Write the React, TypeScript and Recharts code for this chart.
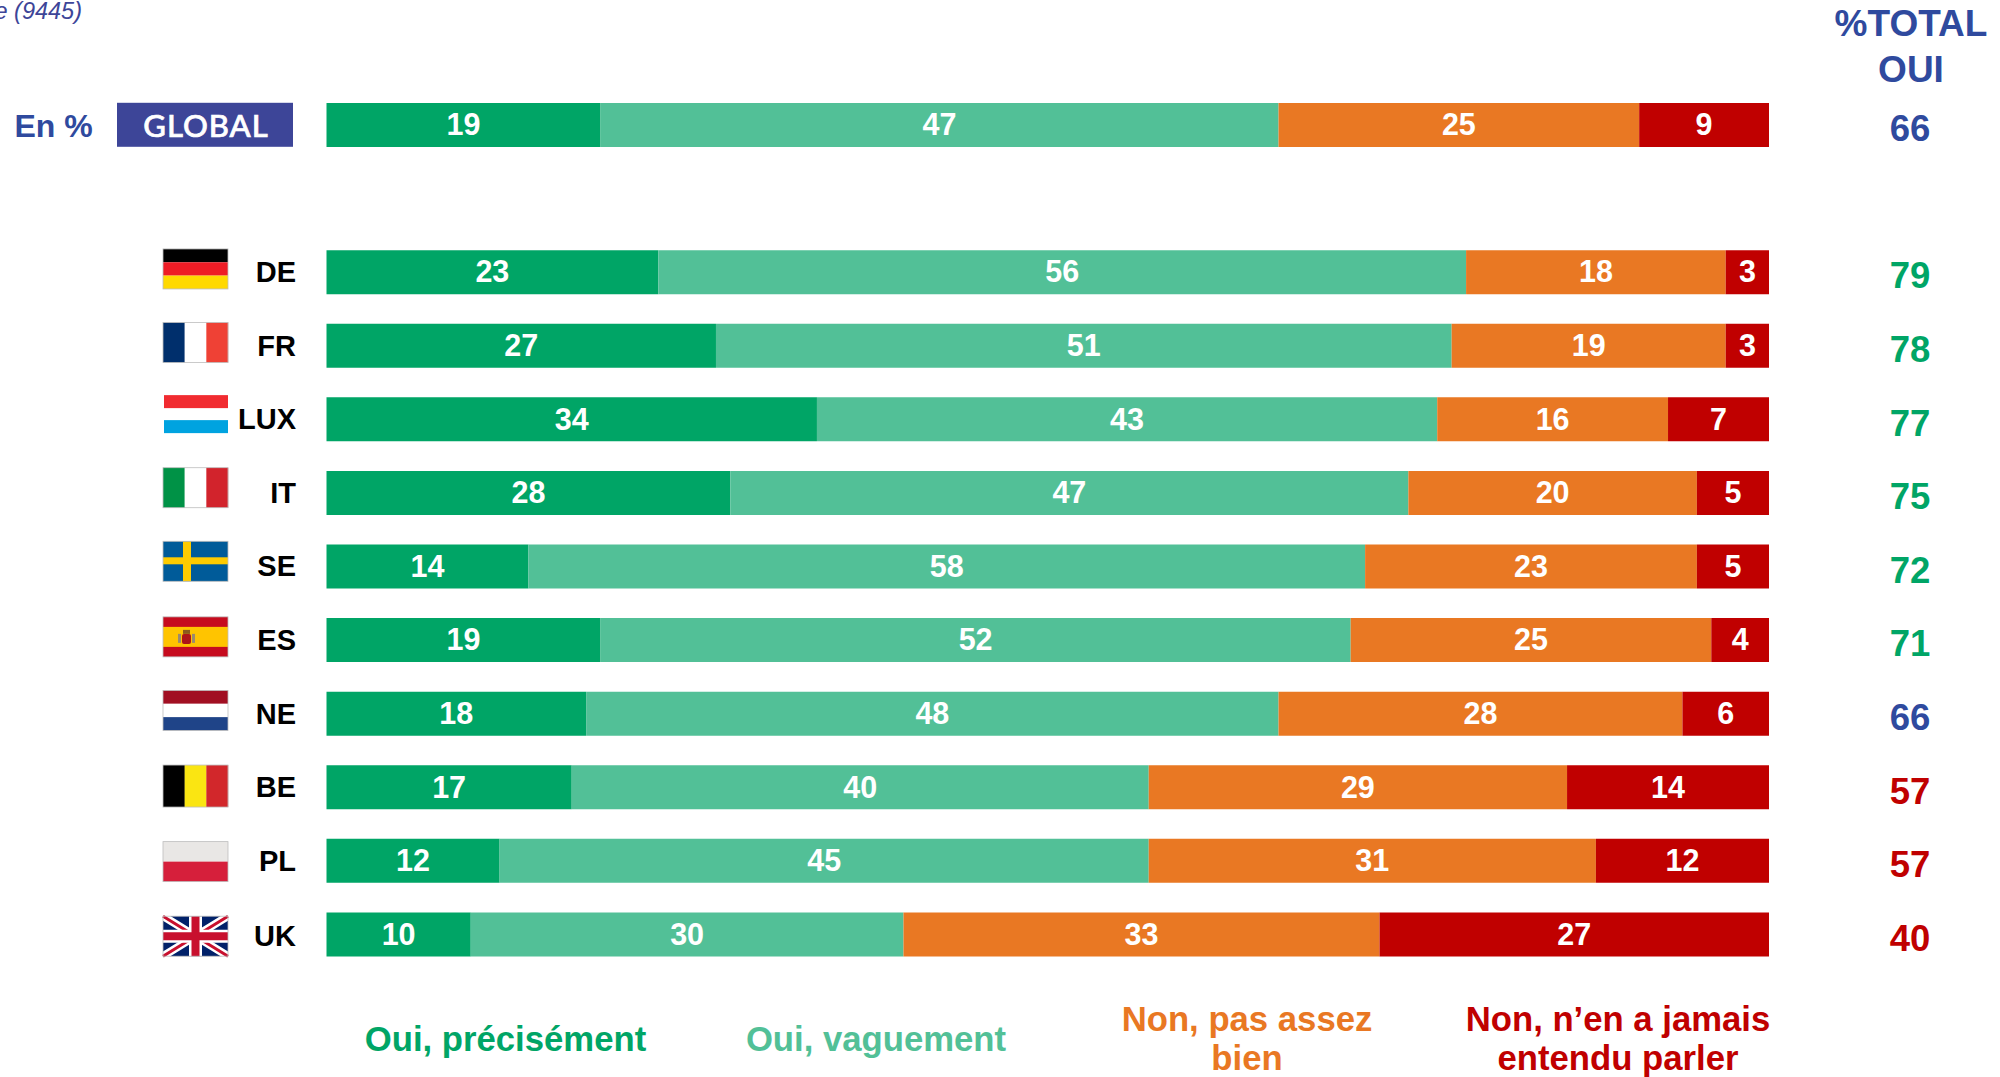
import { BarChart, Bar, XAxis, YAxis, LabelList } from "recharts";

const categories = ["GLOBAL", "", "DE", "FR", "LUX", "IT", "SE", "ES", "NE", "BE", "PL", "UK"];
const ouiPrecisement = [19, null, 23, 27, 34, 28, 14, 19, 18, 17, 12, 10];
const ouiVaguement = [47, null, 56, 51, 43, 47, 58, 52, 48, 40, 45, 30];
const nonPasAssez = [25, null, 18, 19, 16, 20, 23, 25, 28, 29, 31, 33];
const nonJamais = [9, null, 3, 3, 7, 5, 5, 4, 6, 14, 12, 27];
const totalOui = [66, null, 79, 78, 77, 75, 72, 71, 66, 57, 57, 40];

const GREEN = "#00A566";
const LIGHT_GREEN = "#52C097";
const ORANGE = "#E97823";
const RED = "#C00000";
const BLUE = "#2F4A9E";
const NAVY = "#3D4598";
const FONT = "'Liberation Sans', Arial, sans-serif";

const data = categories.map((name, i) => ({
  name,
  precisement: ouiPrecisement[i],
  vaguement: ouiVaguement[i],
  pasAssez: nonPasAssez[i],
  jamais: nonJamais[i],
  total: totalOui[i],
}));

// flag art is 65x40, the value is where its top sits relative to the row centre
const flagTop: Record<string, number> = {
  DE: -23, FR: -23, LUX: -24, IT: -25, SE: -25, ES: -23, NE: -23, BE: -22, PL: -19, UK: -18,
};
// the country labels drift a little from the row centre in the source
const labelShift: Record<string, number> = { NE: 1, UK: 2 };

function FlagArt({ code }: { code: string }) {
  const stripesH = (colors: string[]) =>
    colors.map((c, i) => <rect key={i} x={0} y={(i * 40) / colors.length} width={65} height={40 / colors.length} fill={c} />);
  const stripesV = (colors: string[]) =>
    colors.map((c, i) => <rect key={i} x={(i * 65) / colors.length} y={0} width={65 / colors.length + 0.2} height={40} fill={c} />);

  switch (code) {
    case "DE":
      return <>{stripesH(["#000000", "#EE1C25", "#FFD900"])}</>;
    case "FR":
      return <>{stripesV(["#002F6C", "#FFFFFF", "#EF4135"])}</>;
    case "LUX":
      return (
        <>
          <rect x={1} y={0} width={64} height={13} fill="#F12B30" />
          <rect x={1} y={25} width={64} height={13} fill="#00A3E0" />
        </>
      );
    case "IT":
      return <>{stripesV(["#009246", "#FFFFFF", "#D2232C"])}</>;
    case "SE":
      return (
        <>
          <rect width={65} height={40} fill="#005B99" />
          <rect x={20} width={8} height={40} fill="#FECB00" />
          <rect y={16} width={65} height={7} fill="#FECB00" />
        </>
      );
    case "ES":
      return (
        <>
          <rect width={65} height={40} fill="#C60B1E" />
          <rect y={10} width={65} height={20} fill="#FFC400" />
          <rect x={15} y={17} width={3} height={9} fill="#9A8A70" />
          <rect x={29} y={17} width={3} height={9} fill="#9A8A70" />
          <rect x={19} y={17} width={9} height={10} rx={2} fill="#AD1519" />
          <rect x={20} y={13} width={7} height={4} fill="#8A5A1C" />
        </>
      );
    case "NE":
      return <>{stripesH(["#A10F22", "#FFFFFF", "#1F4488"])}</>;
    case "BE":
      return (
        <g transform="scale(1 1.05)">
          {stripesV(["#000000", "#FAE512", "#D2272B"])}
        </g>
      );
    case "PL":
      return <>{stripesH(["#E9E7E5", "#D61F3B"])}</>;
    case "UK":
      return (
        <>
          <rect width={65} height={40} fill="#012169" />
          <path d="M0 0L65 40M65 0L0 40" stroke="#FFFFFF" strokeWidth={8} />
          <path d="M0 0L65 40M65 0L0 40" stroke="#C8102E" strokeWidth={3} />
          <path d="M32.5 0V40M0 20H65" stroke="#FFFFFF" strokeWidth={13} />
          <path d="M32.5 0V40M0 20H65" stroke="#C8102E" strokeWidth={8} />
        </>
      );
    default:
      return null;
  }
}

function CountryTick({ y, payload }: any) {
  const name = payload.value;
  if (!name) return null;
  if (name === "GLOBAL") {
    return (
      <g>
        <text x={14.5} y={y + 12} fontFamily={FONT} fontWeight={700} fontSize={32} fill={BLUE}>En %</text>
        <rect x={117} y={y - 22} width={176} height={44} fill={NAVY} />
        <text
          x={206}
          y={y + 12}
          textAnchor="middle"
          fontFamily="Lato, sans-serif"
          fontWeight={500}
          fontSize={31}
          letterSpacing={1}
          fill="#FFFFFF"
          stroke="#FFFFFF"
          strokeWidth={0.7}
        >
          {name}
        </text>
      </g>
    );
  }
  return (
    <g>
      <g transform={`translate(163 ${y + flagTop[name]})`}>
        <FlagArt code={name} />
        {name !== "LUX" && <rect x={0} y={0} width={65} height={name === "BE" ? 42 : 40} fill="none" stroke="#BDBDBD" strokeWidth={0.8} />}
      </g>
      <text x={296} y={y + 10 + (labelShift[name] ?? 0)} textAnchor="end" fontFamily={FONT} fontWeight={700} fontSize={29} fill="#000000">
        {name}
      </text>
    </g>
  );
}

function totalColor(v: number) {
  if (v > 66) return GREEN;
  if (v === 66) return BLUE;
  return RED;
}

function TotalTick({ y, payload }: any) {
  const v = totalOui[categories.indexOf(payload.value)];
  if (v == null) return null;
  return (
    <text x={1910} y={y + 16.5} textAnchor="middle" fontFamily={FONT} fontWeight={700} fontSize={36.5} fill={totalColor(v)}>
      {v}
    </text>
  );
}

const series = [
  { key: "precisement", color: GREEN },
  { key: "vaguement", color: LIGHT_GREEN },
  { key: "pasAssez", color: ORANGE },
  { key: "jamais", color: RED },
];

const legend = [
  { lines: ["Oui, précisément"], x: 505.5, y: [1051], color: GREEN },
  { lines: ["Oui, vaguement"], x: 876, y: [1051], color: LIGHT_GREEN },
  { lines: ["Non, pas assez", "bien"], x: 1247, y: [1031, 1070], color: ORANGE },
  { lines: ["Non, n’en a jamais", "entendu parler"], x: 1618, y: [1031, 1070], color: RED },
];

export default function App() {
  return (
    <div style={{ position: "absolute", left: 0, top: 0, width: 2000, height: 1077, overflow: "hidden", background: "#fff" }}>
      <BarChart
        layout="vertical"
        width={2000}
        height={1077}
        data={data}
        margin={{ top: 88, right: 0, bottom: 106, left: 0 }}
        barSize={44}
      >
        <XAxis type="number" domain={[0, 100]} hide />
        <YAxis type="category" dataKey="name" width={326.5} interval={0} axisLine={false} tickLine={false} tick={<CountryTick />} />
        <YAxis
          yAxisId="total"
          orientation="right"
          type="category"
          dataKey="name"
          width={231}
          interval={0}
          axisLine={false}
          tickLine={false}
          tick={<TotalTick />}
        />
        {series.map((s) => (
          <Bar key={s.key} dataKey={s.key} stackId="a" fill={s.color} isAnimationActive={false}>
            <LabelList dataKey={s.key} position="center" dy={-0.5} fill="#FFFFFF" fontFamily={FONT} fontWeight={700} fontSize={30.5} />
          </Bar>
        ))}
      </BarChart>
      <svg width={2000} height={1077} style={{ position: "absolute", left: 0, top: 0, pointerEvents: "none" }}>
        <text x={82} y={19} textAnchor="end" fontFamily={FONT} fontStyle="italic" fontSize={23.5} fill={NAVY}>e (9445)</text>
        <text x={1911} y={36} textAnchor="middle" fontFamily={FONT} fontWeight={700} fontSize={37} fill={BLUE}>%TOTAL</text>
        <text x={1911} y={82} textAnchor="middle" fontFamily={FONT} fontWeight={700} fontSize={37} fill={BLUE}>OUI</text>
        {legend.map((l) =>
          l.lines.map((line, i) => (
            <text key={line} x={l.x} y={l.y[i]} textAnchor="middle" fontFamily={FONT} fontWeight={700} fontSize={34.7} fill={l.color}>
              {line}
            </text>
          ))
        )}
      </svg>
    </div>
  );
}
